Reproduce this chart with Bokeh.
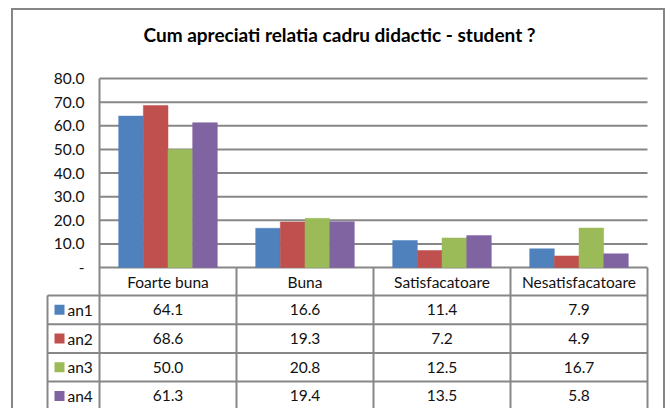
from bokeh.plotting import figure
from bokeh.models import Range1d, FixedTicker, ColumnDataSource
from bokeh.transform import dodge
from bokeh.core.properties import value
from bokeh.embed import file_html
from bokeh.resources import INLINE

# ---------------- data ----------------
chart_title = "Cum apreciati relatia cadru didactic - student ?"
categories = ["Foarte buna", "Buna", "Satisfacatoare", "Nesatisfacatoare"]
series = ["an1", "an2", "an3", "an4"]
an1 = [64.1, 16.6, 11.4, 7.9]
an2 = [68.6, 19.3, 7.2, 4.9]
an3 = [50.0, 20.8, 12.5, 16.7]
an4 = [61.3, 19.4, 13.5, 5.8]
y_ticks = [0, 10, 20, 30, 40, 50, 60, 70, 80]
y_tick_labels = ["-", "10.0", "20.0", "30.0", "40.0", "50.0", "60.0", "70.0", "80.0"]

# ---------------- style ----------------
colors = ["#4F81BD", "#C0504D", "#9BBB59", "#8064A2"]
FONT = "Lato"
GRID = "#878787"
TXT = "#111111"
FS = "15.5px"

# page-pixel layout anchors
OX, OY = 13, 10          # canvas origin on the page (css margin + 2px border)
W, H = 654, 400
PLOT_L, PLOT_R = 99, 647
Y_TOP_TICK, Y_ZERO = 78, 267
FRAME_L, FRAME_R, FRAME_T = 45, 649, 56
FRAME_B = OY + H
TABLE_L = 47
KEY_CX = 59
LABEL_L = 67
HEADER_B = 295
ROW_H = 28.7
TITLE_L = 143

values = [an1, an2, an3, an4]
n = len(categories)
kx = (PLOT_R - PLOT_L) / n
ymax = y_ticks[-1]
ky = (Y_ZERO - Y_TOP_TICK) / ymax

x_start = -0.5 - (PLOT_L - FRAME_L) / kx
x_end = n - 0.5 + (FRAME_R - PLOT_R) / kx
y_end = ymax + (Y_TOP_TICK - FRAME_T) / ky
y_start = -(FRAME_B - Y_ZERO) / ky

header_h = (HEADER_B - Y_ZERO) / ky
row_h = ROW_H / ky
table_left = -0.5 - (PLOT_L - TABLE_L) / kx
key_x = -0.5 - (PLOT_L - KEY_CX) / kx
label_x = -0.5 - (PLOT_L - LABEL_L) / kx

p = figure(width=W, height=H, output_backend="svg", toolbar_location=None,
           x_range=Range1d(x_start, x_end), y_range=Range1d(y_start, y_end),
           x_axis_location=None,
           min_border_left=FRAME_L - OX, min_border_right=OX + W - FRAME_R,
           min_border_top=FRAME_T - OY, min_border_bottom=0,
           outline_line_color=None, background_fill_color="white",
           border_fill_color="white",
           styles={"margin-left": "11px", "margin-top": "8px",
                   "border-left": "2px solid #868686",
                   "border-top": "2px solid #868686",
                   "border-right": "2px solid #868686"})
p.grid.visible = False

# title
p.title.text = chart_title
p.title.align = "left"
p.title.offset = TITLE_L - FRAME_L
p.title.text_font = FONT
p.title.text_font_style = "bold"
p.title.text_font_size = "19px"
p.title.text_color = "#000000"
p.title.standoff = 21

# y axis (drawn at the category-area edge)
yax = p.yaxis[0]
yax.fixed_location = -0.5
yax.ticker = FixedTicker(ticks=y_ticks)
yax.major_label_overrides = {t: l for t, l in zip(y_ticks, y_tick_labels)}
yax.major_label_standoff = 15
yax.major_tick_out = 0
yax.major_tick_in = 0
yax.minor_tick_out = 0
yax.minor_tick_in = 0
yax.axis_line_color = None
yax.major_label_text_font = FONT
yax.major_label_text_font_size = FS
yax.major_label_text_color = TXT

# gridlines
p.segment(x0=-0.5, y0=y_ticks, x1=n - 0.5, y1=y_ticks, line_color=GRID, line_width=2)

# bars
cat_x = list(range(n))
src = ColumnDataSource(dict(x=cat_x, an1=an1, an2=an2, an3=an3, an4=an4))
bar_w = 0.18
for j, s in enumerate(series):
    off = (j - (len(series) - 1) / 2) * bar_w
    p.vbar(x=dodge("x", off), top=s, width=bar_w, source=src,
           fill_color=colors[j], line_color=colors[j], line_width=0.5)

# data table lines
row_tops = [-header_h - j * row_h for j in range(len(series))]
row_centers = [t - row_h / 2 for t in row_tops]
p.segment(x0=table_left, y0=row_tops, x1=n - 0.5, y1=row_tops, line_color=GRID, line_width=2)
p.segment(x0=[i + 0.5 for i in cat_x], y0=0, x1=[i + 0.5 for i in cat_x], y1=y_start,
          line_color=GRID, line_width=2)
p.segment(x0=-0.5, y0=ymax, x1=-0.5, y1=y_start, line_color=GRID, line_width=2)
p.segment(x0=table_left, y0=-header_h, x1=table_left, y1=y_start, line_color=GRID, line_width=2)

# table header (categories)
p.text(x=cat_x, y=-header_h / 2, text=categories, text_align="center", text_baseline="middle",
       text_font=value(FONT), text_font_size=FS, text_color=TXT)

# legend keys + series names
p.scatter(x=key_x, y=row_centers, marker="square", size=10, color=colors, line_color=None)
p.text(x=label_x, y=row_centers, text=series, text_align="left", text_baseline="middle",
       text_font=value(FONT), text_font_size=FS, text_color=TXT)

# table values
vx, vy, vt = [], [], []
for j, vals in enumerate(values):
    for i, v in enumerate(vals):
        vx.append(i)
        vy.append(row_centers[j])
        vt.append(f"{v:.1f}")
p.text(x=vx, y=vy, text=vt, text_align="center", text_baseline="middle",
       text_font=value(FONT), text_font_size=FS, text_color=TXT)

open("out.html", "w").write(file_html(p, INLINE))
